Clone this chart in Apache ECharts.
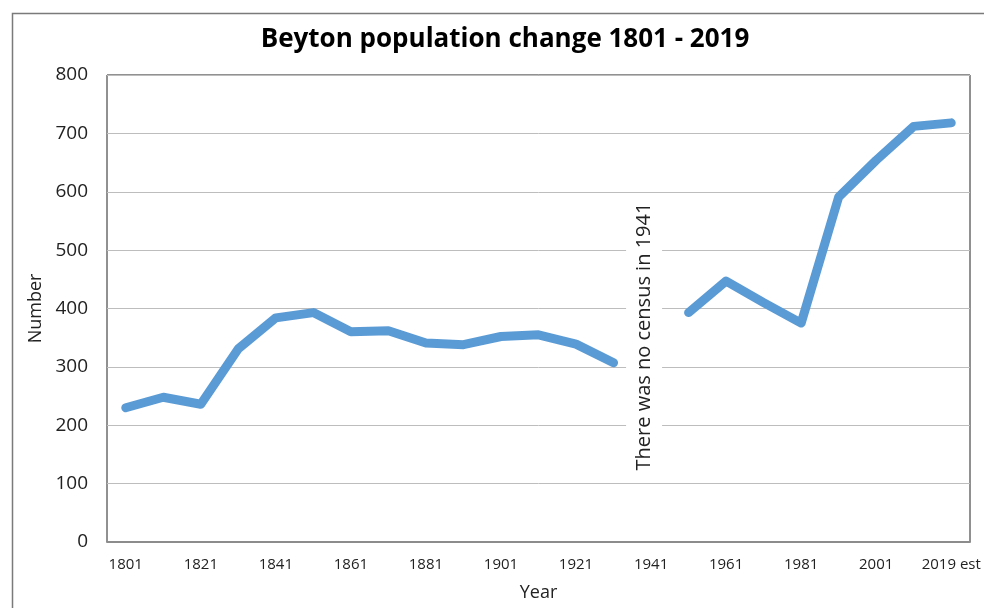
<!DOCTYPE html>
<html><head><meta charset="utf-8">
<script src="https://cdn.jsdelivr.net/npm/echarts@6/dist/echarts.min.js"></script>
<style>html,body{margin:0;padding:0;background:#fff;overflow:hidden;width:100%;height:100%}#c{width:984px;height:608px}</style>
</head><body><div id="c"></div>
<script>
const years = ['1801','1811','1821','1831','1841','1851','1861','1871','1881','1891','1901','1911','1921','1931','1941','1951','1961','1971','1981','1991','2001','2011','2019 est'];
const population = [230,248,236,331,384,393,360,362,341,338,352,355,339,307,null,393,447,410,375,591,654,712,718];
const yTicks = [0,100,200,300,400,500,600,700,800];
const titleText = 'Beyton population change 1801 - 2019';
const noteText = 'There was no census in 1941';
const noteCategory = '1941';
const noteValue = 352;

const chart = echarts.init(document.getElementById('c'), null, {renderer:'canvas', width:984, height:608});
const font = '"Open Sans", "Noto Sans", sans-serif';
chart.setOption({
  animation:false,
  backgroundColor:'#fff',
  textStyle:{fontFamily:font},
  title:{text:titleText,left:500,textAlign:'center',top:22,textStyle:{fontFamily:font,fontWeight:'bold',fontSize:26,color:'#000'}},
  graphic:[{type:'polyline',shape:{points:[[12.5,620],[12.5,13.5],[990,13.5]]},style:{fill:null,stroke:'#7a7a7a',lineWidth:1.5},z:-1}],
  grid:{left:107,right:14,top:75,bottom:66,show:true,borderColor:'#222',borderWidth:1,backgroundColor:'transparent',containLabel:false,outerBoundsMode:'none'},
  xAxis:{type:'category',data:years,boundaryGap:true,
    name:'Year',nameLocation:'middle',nameGap:42,nameTextStyle:{fontSize:18,color:'#222',fontFamily:font},
    axisLine:{show:true,lineStyle:{color:'#8c8c8c',width:2}},axisTick:{show:false},
    axisLabel:{interval:1,fontSize:15,color:'#222',margin:15,fontFamily:font},splitLine:{show:false}},
  yAxis:{type:'value',min:yTicks[0],max:yTicks[yTicks.length-1],interval:100,
    name:'Number',nameLocation:'middle',nameGap:62,nameTextStyle:{fontSize:18,color:'#222',fontFamily:font},
    axisLine:{show:false},axisTick:{show:false},
    axisLabel:{fontSize:19,color:'#222',margin:19,fontFamily:font},
    splitLine:{lineStyle:{color:'#bdbdbd',width:1}}},
  series:[{type:'line',data:population,connectNulls:false,showSymbol:false,symbol:'none',
    lineStyle:{color:'#5b9bd5',width:9,cap:'round',join:'round'},
    markPoint:{silent:true,symbol:'rect',symbolSize:[36,272],symbolOffset:[-7,0],
      itemStyle:{color:'#fff'},
      label:{show:true,position:'inside',rotate:90,formatter:noteText,fontSize:20,color:'#222',fontFamily:font},
      data:[{coord:[noteCategory,noteValue]}]},
    z:3}]
});
</script></body></html>
